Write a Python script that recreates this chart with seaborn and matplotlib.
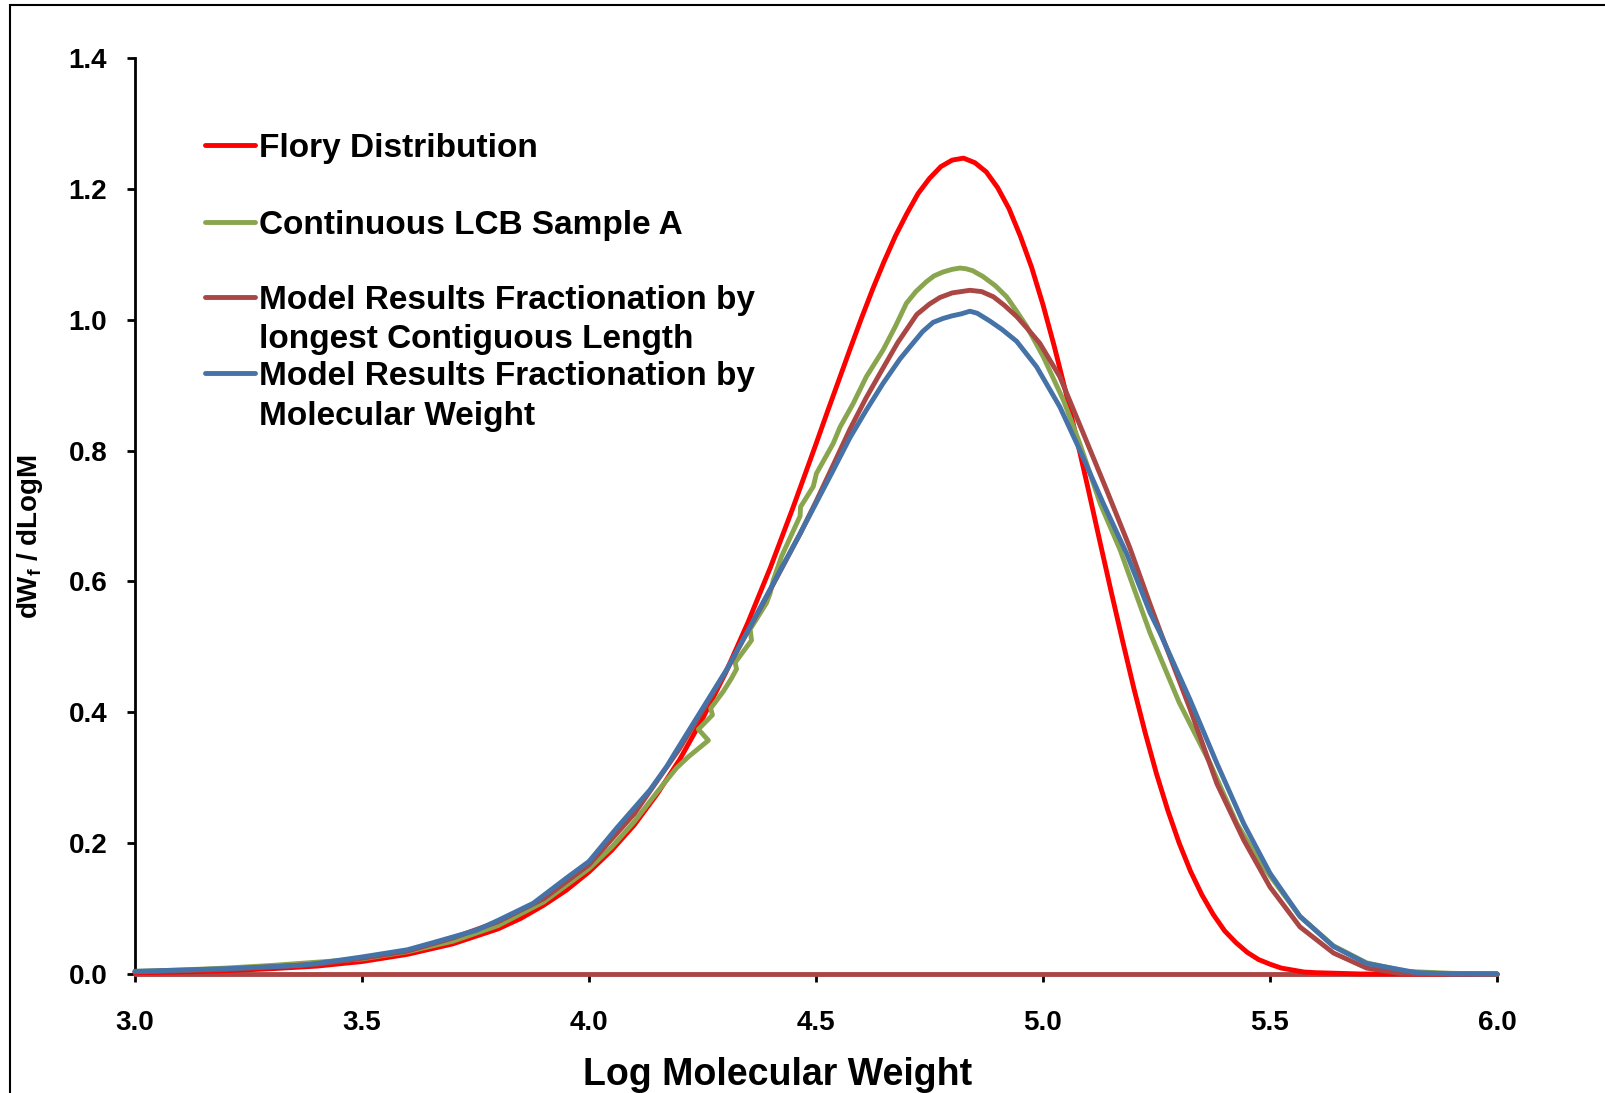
import matplotlib
matplotlib.use('Agg')
import matplotlib.pyplot as plt
import seaborn as sns
from matplotlib.patches import Rectangle

sns.set_style('ticks')
plt.rcParams['font.family'] = ['Liberation Sans', 'DejaVu Sans']
plt.rcParams['font.weight'] = 'bold'
plt.rcParams['mathtext.fontset'] = 'custom'
plt.rcParams['mathtext.bf'] = 'Liberation Sans:bold'
plt.rcParams['mathtext.rm'] = 'Liberation Sans:bold'
for k in ['text.color', 'axes.labelcolor', 'xtick.color', 'ytick.color', 'axes.edgecolor']:
    plt.rcParams[k] = 'black'

# Flory distribution
flory_x = [3.0, 3.1, 3.2, 3.3, 3.4, 3.5, 3.6, 3.7, 3.8, 3.85, 3.9, 3.95, 4.0, 4.05, 4.1,
           4.15, 4.2, 4.25, 4.3, 4.35, 4.4, 4.45, 4.5, 4.525, 4.55, 4.575, 4.6, 4.625,
           4.65, 4.675, 4.7, 4.725, 4.75, 4.775, 4.8, 4.825, 4.85, 4.875, 4.9, 4.925,
           4.95, 4.975, 5.0, 5.025, 5.05, 5.075, 5.1, 5.125, 5.15, 5.175, 5.2, 5.225,
           5.25, 5.275, 5.3, 5.325, 5.35, 5.375, 5.4, 5.425, 5.45, 5.475, 5.5, 5.525,
           5.55, 5.575, 5.6, 5.65, 5.7, 5.8, 6.0]
flory_y = [0.002, 0.003, 0.005, 0.008, 0.012, 0.019, 0.030, 0.046, 0.069, 0.085, 0.105,
           0.128, 0.156, 0.189, 0.228, 0.275, 0.328, 0.390, 0.459, 0.537, 0.622, 0.714,
           0.810, 0.859, 0.907, 0.955, 1.002, 1.047, 1.089, 1.128, 1.162, 1.193, 1.216,
           1.234, 1.244, 1.247, 1.240, 1.226, 1.202, 1.170, 1.128, 1.080, 1.023, 0.959,
           0.890, 0.816, 0.740, 0.662, 0.585, 0.510, 0.437, 0.369, 0.306, 0.250, 0.200,
           0.157, 0.121, 0.091, 0.066, 0.048, 0.033, 0.022, 0.015, 0.009, 0.006, 0.003,
           0.002, 0.001, 0.0, 0.0, 0.0]

# Continuous LCB Sample A (measured, a bit noisy)
lcb_x = [3.0, 3.1, 3.2, 3.3, 3.4, 3.5, 3.6, 3.7, 3.8, 3.9, 4.0, 4.05, 4.1, 4.15, 4.193,
         4.219, 4.263, 4.241, 4.272, 4.268, 4.296, 4.314, 4.325, 4.322, 4.358, 4.355,
         4.391, 4.399, 4.406, 4.424, 4.465, 4.466, 4.494, 4.501, 4.538, 4.553, 4.582,
         4.611, 4.648, 4.675, 4.699, 4.72, 4.743, 4.76, 4.78, 4.8, 4.817, 4.83, 4.845,
         4.868, 4.895, 4.92, 4.94, 4.964, 5.001, 5.045, 5.081, 5.126, 5.17, 5.199,
         5.236, 5.3, 5.368, 5.427, 5.47, 5.5, 5.566, 5.64, 5.713, 5.8, 5.9, 6.0]
lcb_y = [0.004, 0.006, 0.009, 0.013, 0.018, 0.023, 0.034, 0.050, 0.074, 0.110, 0.161,
         0.194, 0.233, 0.278, 0.315, 0.332, 0.357, 0.374, 0.396, 0.406, 0.432, 0.452,
         0.466, 0.476, 0.510, 0.527, 0.567, 0.582, 0.602, 0.638, 0.700, 0.714, 0.745,
         0.765, 0.811, 0.836, 0.872, 0.913, 0.954, 0.990, 1.025, 1.043, 1.058, 1.067,
         1.073, 1.077, 1.079, 1.078, 1.075, 1.066, 1.052, 1.035, 1.015, 0.990, 0.943,
         0.877, 0.811, 0.719, 0.648, 0.592, 0.521, 0.415, 0.322, 0.230, 0.180, 0.150,
         0.088, 0.043, 0.017, 0.004, 0.001, 0.0]

# Model results, fractionation by longest contiguous length
lcl_x = [3.0, 3.2, 3.4, 3.5, 3.6, 3.7, 3.8, 3.9, 4.0, 4.1, 4.2, 4.3, 4.4, 4.465, 4.5,
         4.538, 4.575, 4.61, 4.641, 4.68, 4.722, 4.75, 4.773, 4.8, 4.839, 4.865, 4.891,
         4.915, 4.942, 4.965, 4.993, 5.037, 5.089, 5.14, 5.191, 5.236, 5.258, 5.324,
         5.383, 5.442, 5.5, 5.566, 5.64, 5.713, 5.786, 5.9, 6.0]
lcl_y = [0.003, 0.007, 0.015, 0.024, 0.035, 0.055, 0.080, 0.115, 0.167, 0.245, 0.345,
         0.460, 0.588, 0.673, 0.722, 0.778, 0.833, 0.880, 0.918, 0.965, 1.008, 1.024,
         1.034, 1.041, 1.045, 1.043, 1.035, 1.022, 1.005, 0.987, 0.964, 0.913, 0.826,
         0.740, 0.652, 0.565, 0.524, 0.405, 0.291, 0.205, 0.133, 0.072, 0.032, 0.009,
         0.001, 0.0, 0.0]

# Model results, fractionation by molecular weight
mw_x = [3.0, 3.1, 3.2, 3.3, 3.363, 3.4, 3.5, 3.6, 3.657, 3.753, 3.8, 3.877, 3.951, 4.0,
        4.061, 4.134, 4.171, 4.193, 4.244, 4.303, 4.355, 4.406, 4.465, 4.538, 4.575,
        4.611, 4.648, 4.685, 4.711, 4.735, 4.758, 4.78, 4.8, 4.82, 4.839, 4.855, 4.883,
        4.91, 4.942, 4.986, 5.037, 5.081, 5.133, 5.184, 5.236, 5.258, 5.324, 5.383,
        5.442, 5.5, 5.566, 5.64, 5.713, 5.823, 5.9, 6.0]
mw_y = [0.004, 0.006, 0.008, 0.011, 0.013, 0.016, 0.026, 0.037, 0.048, 0.067, 0.082,
        0.108, 0.147, 0.172, 0.223, 0.281, 0.317, 0.342, 0.399, 0.465, 0.531, 0.597,
        0.673, 0.770, 0.820, 0.862, 0.903, 0.940, 0.962, 0.982, 0.996, 1.002, 1.006,
        1.009, 1.013, 1.010, 0.998, 0.985, 0.967, 0.928, 0.867, 0.801, 0.719, 0.643,
        0.552, 0.521, 0.419, 0.322, 0.230, 0.154, 0.088, 0.042, 0.016, 0.002, 0.0, 0.0]

# flat zero trace along the axis
zero_x = [3.0, 6.0]
zero_y = [0.0, 0.0]

labels = ['Flory Distribution', 'Continuous LCB Sample A',
          'Model Results Fractionation by\nlongest Contiguous Length',
          'Model Results Fractionation by\nMolecular Weight']
colors = ['#FF0000', '#89A54E', '#AA4643', '#4572A7']

fig = plt.figure(figsize=(16.05, 10.93), dpi=100)
ax = fig.add_axes([0.0841, 0.1089, 0.8486, 0.8380])

sns.lineplot(x=zero_x, y=zero_y, color=colors[2], lw=3.5, ax=ax, zorder=3,
             clip_on=False)
series = [(flory_x, flory_y), (lcb_x, lcb_y), (lcl_x, lcl_y), (mw_x, mw_y)]
for i, (xs, ys) in enumerate(series):
    sns.lineplot(x=xs, y=ys, color=colors[i], lw=3.5, ax=ax, sort=False,
                 estimator=None, zorder=4 + i, clip_on=False)

ax.set_xlim(3.0, 6.0)
ax.set_ylim(0, 1.4)
ax.set_xticks([3.0, 3.5, 4.0, 4.5, 5.0, 5.5, 6.0])
ax.set_yticks([0.0, 0.2, 0.4, 0.6, 0.8, 1.0, 1.2, 1.4])
ax.xaxis.set_major_formatter('{x:.1f}')
ax.yaxis.set_major_formatter('{x:.1f}')
ax.tick_params(axis='both', labelsize=20, width=2, length=6, direction='out',
               color='black')
ax.tick_params(axis='x', pad=20)
ax.tick_params(axis='y', pad=14)
for lab in ax.get_xticklabels() + ax.get_yticklabels():
    lab.set_fontweight('bold')
sns.despine(ax=ax)
for s in ['left', 'bottom']:
    ax.spines[s].set_linewidth(2)
    ax.spines[s].set_color('black')

ax.set_xlabel('Log Molecular Weight', fontsize=27, fontweight='bold')
ax.xaxis.set_label_coords(0.472, -0.091)
ax.set_ylabel(r'dW$_\mathbf{f}$ / dLogM', fontsize=20, fontweight='bold')
ax.yaxis.set_label_coords(-0.066, 0.478)

# legend drawn by hand, Excel style
entry_y = [0.905, 0.821, 0.739, 0.656]
line_gap = 0.043
for i, lab in enumerate(labels):
    ax.plot([0.0514, 0.0881], [entry_y[i], entry_y[i]], color=colors[i], lw=3.5,
            transform=ax.transAxes, solid_capstyle='round')
    for j, part in enumerate(lab.split('\n')):
        ax.text(0.091, entry_y[i] - j * line_gap, part, transform=ax.transAxes,
                fontsize=24, fontweight='bold', va='center_baseline', ha='left')

fig.add_artist(Rectangle((0.0062, -0.1), 1.2, 1.0954, fill=False, lw=1.5,
                         edgecolor='black', transform=fig.transFigure))

fig.savefig('out.png', dpi=100)
